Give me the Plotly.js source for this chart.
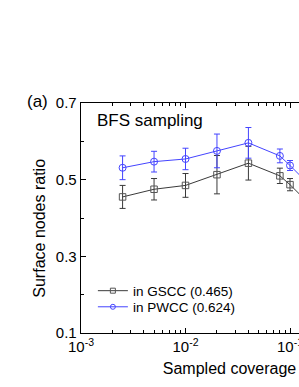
<!DOCTYPE html>
<html>
<head>
<meta charset="utf-8">
<script src="https://cdn.plot.ly/plotly-3.0.1.min.js"></script>
<style>
html,body{margin:0;padding:0;overflow:hidden;background:#fff;}
#chart{width:410px;height:387px;}
</style>
</head>
<body>
<div id="chart"></div>
<script>
var coverage = [0.0025, 0.005, 0.01, 0.02, 0.04, 0.08, 0.1, 0.2];
var gsccRatio = [0.455, 0.475, 0.485, 0.513, 0.543, 0.510, 0.487, 0.405];
var gsccErr   = [0.030, 0.028, 0.031, 0.050, 0.044, 0.020, 0.016, 0.015];
var pwccRatio = [0.531, 0.547, 0.554, 0.575, 0.596, 0.562, 0.537, 0.455];
var pwccErr   = [0.031, 0.027, 0.028, 0.044, 0.040, 0.018, 0.013, 0.012];
var seriesNames = ['in GSCC (0.465)', 'in PWCC (0.624)'];
var xTickVals = [0.001, 0.01, 0.1, 1];
var xTickText = ['10<sup>-3</sup>', '10<sup>-2</sup>', '10<sup>-1</sup>', '10<sup>0</sup>'];
var yTickVals = [0.1, 0.3, 0.5, 0.7];

var font = 'Liberation Sans, Arial, sans-serif';
var gray = '#3a3a3a', grayMarker = '#555555', blue = '#4444ff';

var traces = [
  {x: coverage, y: gsccRatio, name: seriesNames[0], type: 'scatter', mode: 'lines+markers',
   showlegend: false, cliponaxis: true,
   line: {color: gray, width: 1},
   marker: {symbol: 'square-open', size: 6.5, color: grayMarker, line: {width: 1}},
   error_y: {type: 'data', array: gsccErr, visible: true, color: gray, thickness: 1, width: 3}},
  {x: coverage, y: pwccRatio, name: seriesNames[1], type: 'scatter', mode: 'lines+markers',
   showlegend: false, cliponaxis: true,
   line: {color: blue, width: 1},
   marker: {symbol: 'circle-open', size: 7, color: blue, line: {width: 1}},
   error_y: {type: 'data', array: pwccErr, visible: true, color: blue, thickness: 1, width: 3}},
  // legend entries (small symbols as in the reference)
  {x: [null], y: [null], name: seriesNames[0], type: 'scatter', mode: 'lines+markers', legend: 'legend',
   line: {color: gray, width: 1}, marker: {symbol: 'square-open', size: 5, color: grayMarker, line: {width: 1}}},
  {x: [null], y: [null], name: seriesNames[1], type: 'scatter', mode: 'lines+markers', legend: 'legend2',
   line: {color: blue, width: 1}, marker: {symbol: 'circle-open', size: 5, color: blue, line: {width: 1}}}
];

var legendBase = {xanchor: 'left', yanchor: 'middle', bgcolor: 'rgba(0,0,0,0)', borderwidth: 0,
                  font: {family: font, size: 13.5}, itemwidth: 30};

var layout = {
  width: 410, height: 387,
  margin: {l: 81, r: 32, t: 103, b: 54},
  paper_bgcolor: '#fff', plot_bgcolor: '#fff',
  font: {family: font, size: 14, color: '#000'},
  showlegend: true,
  legend: Object.assign({}, legendBase, {x: 0.040, y: 0.183}),
  legend2: Object.assign({}, legendBase, {x: 0.040, y: 0.113}),
  xaxis: {type: 'log', range: [-3, -0.158], showline: true, linecolor: '#000', linewidth: 1.3,
          mirror: 'ticks', showgrid: false, zeroline: false,
          ticks: 'inside', ticklen: 5, tickcolor: '#000', tickvals: xTickVals, ticktext: xTickText,
          tickfont: {family: font, size: 15},
          minor: {ticks: 'inside', ticklen: 3, tickcolor: '#000', dtick: 'D1', showgrid: false},
          title: {text: 'Sampled coverage', font: {family: font, size: 16}, standoff: 8}},
  yaxis: {range: [0.1, 0.7], showline: true, linecolor: '#000', linewidth: 1.3,
          mirror: 'ticks', showgrid: false, zeroline: false,
          ticks: 'inside', ticklen: 5, tickcolor: '#000', tickvals: yTickVals,
          tickfont: {family: font, size: 15},
          minor: {ticks: 'inside', ticklen: 3, tickcolor: '#000', dtick: 0.1, showgrid: false}},
  annotations: [
    {text: 'Surface nodes ratio', xref: 'paper', yref: 'paper', x: -0.141, y: 0.454,
     xanchor: 'center', yanchor: 'middle', textangle: -90, showarrow: false,
     font: {family: font, size: 16}},
    {text: 'BFS sampling', xref: 'paper', yref: 'paper', x: 0.046, y: 0.923, xanchor: 'left', yanchor: 'middle',
     showarrow: false, font: {family: font, size: 17}},
    {text: '(a)', xref: 'paper', yref: 'paper', x: -0.19, y: 1.007, xanchor: 'left', yanchor: 'middle',
     showarrow: false, font: {family: font, size: 17}}
  ]
};

Plotly.newPlot('chart', traces, layout, {displayModeBar: false, staticPlot: true});
</script>
</body>
</html>
